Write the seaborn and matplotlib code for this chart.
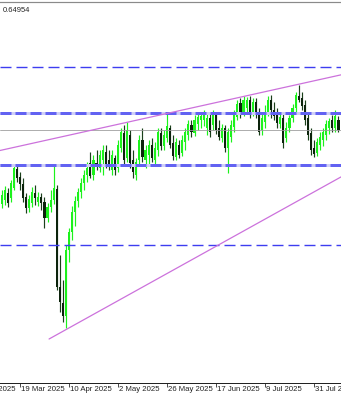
import numpy as np
import pandas as pd
import matplotlib
matplotlib.use("Agg")
import matplotlib.pyplot as plt
import matplotlib.transforms as mtransforms
import seaborn as sns

# ---------------- data (daily candles) ----------------
start_date = "2025-03-11"
opens = [
    0.6273, 0.6285, 0.6306, 0.6291, 0.6321, 0.6378, 0.6354, 0.6333, 0.6294, 0.6261,
    0.6276, 0.6306, 0.6279, 0.6294, 0.6279, 0.6231, 0.6264, 0.6285, 0.6318, 0.6024,
    0.5976, 0.5937, 0.6135, 0.6189, 0.6249, 0.6282, 0.6309, 0.6336, 0.6360, 0.6396,
    0.6360, 0.6396, 0.6381, 0.6405, 0.6429, 0.6405, 0.6375, 0.6411, 0.6381, 0.6441,
    0.6486, 0.6411, 0.6480, 0.6405, 0.6360, 0.6405, 0.6465, 0.6405, 0.6420, 0.6450,
    0.6405, 0.6435, 0.6486, 0.6447, 0.6471, 0.6501, 0.6456, 0.6414, 0.6450, 0.6426,
    0.6459, 0.6480, 0.6510, 0.6486, 0.6513, 0.6525, 0.6525, 0.6501, 0.6531, 0.6510,
    0.6540, 0.6501, 0.6471, 0.6501, 0.6441, 0.6474, 0.6504, 0.6534, 0.6576, 0.6549,
    0.6561, 0.6585, 0.6549, 0.6579, 0.6549, 0.6495, 0.6519, 0.6549, 0.6585, 0.6555,
    0.6546, 0.6513, 0.6531, 0.6471, 0.6501, 0.6531, 0.6561, 0.6597, 0.6591, 0.6570,
    0.6531, 0.6486, 0.6441, 0.6426, 0.6450, 0.6465, 0.6480, 0.6501, 0.6525, 0.6501,
    0.6525,
]
highs = [
    0.6315, 0.6327, 0.6321, 0.6345, 0.6393, 0.6390, 0.6369, 0.6351, 0.6306, 0.6300,
    0.6324, 0.6330, 0.6309, 0.6306, 0.6294, 0.6276, 0.6315, 0.6390, 0.6330, 0.6120,
    0.6045, 0.6150, 0.6201, 0.6267, 0.6297, 0.6321, 0.6351, 0.6375, 0.6399, 0.6429,
    0.6420, 0.6435, 0.6435, 0.6450, 0.6450, 0.6435, 0.6435, 0.6420, 0.6465, 0.6501,
    0.6510, 0.6519, 0.6495, 0.6435, 0.6411, 0.6480, 0.6501, 0.6450, 0.6465, 0.6471,
    0.6459, 0.6501, 0.6501, 0.6495, 0.6549, 0.6510, 0.6480, 0.6471, 0.6465, 0.6480,
    0.6501, 0.6525, 0.6525, 0.6540, 0.6549, 0.6549, 0.6555, 0.6549, 0.6546, 0.6555,
    0.6549, 0.6525, 0.6513, 0.6510, 0.6501, 0.6525, 0.6555, 0.6585, 0.6591, 0.6597,
    0.6594, 0.6597, 0.6591, 0.6591, 0.6561, 0.6549, 0.6570, 0.6597, 0.6600, 0.6579,
    0.6561, 0.6549, 0.6549, 0.6519, 0.6540, 0.6573, 0.6609, 0.6630, 0.6609, 0.6585,
    0.6549, 0.6501, 0.6465, 0.6471, 0.6489, 0.6501, 0.6525, 0.6531, 0.6540, 0.6555,
    0.6537,
]
lows = [
    0.6261, 0.6270, 0.6264, 0.6279, 0.6315, 0.6339, 0.6315, 0.6279, 0.6246, 0.6249,
    0.6264, 0.6270, 0.6267, 0.6255, 0.6201, 0.6219, 0.6249, 0.6273, 0.6015, 0.5949,
    0.5919, 0.5901, 0.6099, 0.6165, 0.6207, 0.6264, 0.6291, 0.6315, 0.6339, 0.6351,
    0.6345, 0.6375, 0.6369, 0.6360, 0.6381, 0.6375, 0.6360, 0.6360, 0.6369, 0.6429,
    0.6390, 0.6399, 0.6381, 0.6351, 0.6345, 0.6390, 0.6399, 0.6381, 0.6390, 0.6399,
    0.6390, 0.6417, 0.6435, 0.6435, 0.6459, 0.6441, 0.6405, 0.6405, 0.6411, 0.6417,
    0.6435, 0.6465, 0.6474, 0.6477, 0.6495, 0.6501, 0.6507, 0.6480, 0.6474, 0.6495,
    0.6483, 0.6465, 0.6459, 0.6429, 0.6366, 0.6459, 0.6489, 0.6525, 0.6531, 0.6537,
    0.6543, 0.6531, 0.6537, 0.6531, 0.6480, 0.6480, 0.6501, 0.6537, 0.6531, 0.6525,
    0.6501, 0.6501, 0.6441, 0.6459, 0.6489, 0.6519, 0.6549, 0.6579, 0.6555, 0.6510,
    0.6465, 0.6420, 0.6414, 0.6417, 0.6435, 0.6447, 0.6465, 0.6483, 0.6489, 0.6489,
    0.6489,
]
closes = [
    0.6300, 0.6315, 0.6276, 0.6336, 0.6381, 0.6351, 0.6333, 0.6291, 0.6261, 0.6288,
    0.6309, 0.6291, 0.6294, 0.6276, 0.6231, 0.6264, 0.6285, 0.6321, 0.6024, 0.5979,
    0.5937, 0.6135, 0.6189, 0.6249, 0.6282, 0.6309, 0.6336, 0.6360, 0.6381, 0.6357,
    0.6405, 0.6387, 0.6420, 0.6435, 0.6390, 0.6384, 0.6420, 0.6375, 0.6450, 0.6489,
    0.6405, 0.6495, 0.6396, 0.6369, 0.6399, 0.6465, 0.6414, 0.6435, 0.6450, 0.6411,
    0.6441, 0.6489, 0.6447, 0.6480, 0.6507, 0.6450, 0.6417, 0.6459, 0.6420, 0.6465,
    0.6489, 0.6513, 0.6489, 0.6525, 0.6534, 0.6537, 0.6543, 0.6531, 0.6489, 0.6543,
    0.6495, 0.6474, 0.6501, 0.6441, 0.6489, 0.6510, 0.6543, 0.6573, 0.6543, 0.6585,
    0.6585, 0.6549, 0.6579, 0.6543, 0.6489, 0.6531, 0.6549, 0.6585, 0.6555, 0.6537,
    0.6516, 0.6534, 0.6456, 0.6501, 0.6531, 0.6561, 0.6600, 0.6585, 0.6567, 0.6525,
    0.6480, 0.6435, 0.6423, 0.6459, 0.6474, 0.6489, 0.6513, 0.6522, 0.6501, 0.6537,
    0.64954,
]
last_price = 0.64954
thin_levels = [0.6684, 0.6150]
thick_levels = [0.6546, 0.6390]
upper_trend_bars = [0, 110]
upper_trend_prices = [0.64346, 0.66588]
lower_trend_bars = [15.5, 110]
lower_trend_prices = [0.5868, 0.6350]
first_label_bar = 6
label_every = 16

# ---------------- build frame ----------------
n = len(closes)
dates = pd.bdate_range(start_date, periods=n)
df = pd.DataFrame({"date": dates, "open": opens, "high": highs,
                   "low": lows, "close": closes})
df["bar"] = np.arange(n)
df["up"] = df["close"] >= df["open"]

# ---------------- style ----------------
sns.set_theme(style="white")
plt.rcParams["font.family"] = ["Liberation Sans", "DejaVu Sans"]
plt.rcParams["lines.scale_dashes"] = False

W, H, DPI = 341, 400, 100
fig = plt.figure(figsize=(W / DPI, H / DPI), dpi=DPI)
fig.patch.set_facecolor("white")
ax = fig.add_axes([0, 17 / H, 1, (398 - 17) / H])
ax.set_facecolor("white")

xlim = (-0.52, 110.82)
ylim = (0.5736, 0.6879)

bull = "#1cf21c"
bear_body = "#0c230c"
bear_wick = "#1a401a"

up = df[df["up"]]
dn = df[~df["up"]]
# wicks
ax.vlines(up["bar"], up["low"], up["high"], colors=bull, lw=0.85, zorder=2)
ax.vlines(dn["bar"], dn["low"], dn["high"], colors=bear_wick, lw=0.85, zorder=2)
# bodies
min_h = 0.00025
ax.bar(up["bar"], np.maximum(up["close"] - up["open"], min_h), bottom=up["open"],
       width=0.7, color=bull, linewidth=0, zorder=2.5)
ax.bar(dn["bar"], np.maximum(dn["open"] - dn["close"], min_h), bottom=dn["close"],
       width=0.7, color=bear_body, linewidth=0, zorder=2.5)

# horizontal levels
px = 0.72  # points per pixel at 100 dpi
for lv in thin_levels:
    ax.axhline(lv, color="#3e3ef0", lw=1.4 * px, dashes=(11 * px, 5 * px), zorder=4)
for lv in thick_levels:
    ax.axhline(lv, color="#cfcff7", lw=3 * px, zorder=3.9)
    ax.axhline(lv, color="#6262f2", lw=3 * px, dashes=(11 * px, 4 * px), zorder=4)
ax.axhline(last_price, color="#9a9a9a", lw=0.8 * px, zorder=3.5)

# trend lines (seaborn lineplot), extended to the visible edge
def extend(bars, prices, x0, x1):
    slope = (prices[1] - prices[0]) / (bars[1] - bars[0])
    xs = np.array([x0, x1])
    return pd.DataFrame({"bar": xs, "price": prices[0] + slope * (xs - bars[0])})

up_line = extend(upper_trend_bars, upper_trend_prices, xlim[0], xlim[1])
lo_line = extend(lower_trend_bars, lower_trend_prices, lower_trend_bars[0], xlim[1])
sns.lineplot(data=up_line, x="bar", y="price", ax=ax, color="#cc72dc",
             lw=0.9, zorder=4.5, legend=False)
sns.lineplot(data=lo_line, x="bar", y="price", ax=ax, color="#cc72dc",
             lw=0.9, zorder=4.5, legend=False)

ax.set_xlim(*xlim)
ax.set_ylim(*ylim)
ax.set_xlabel("")
ax.set_ylabel("")
ax.set_yticks([])

# spines
for s in ["left", "right"]:
    ax.spines[s].set_visible(False)
ax.spines["top"].set_color("#8a8a8a")
ax.spines["top"].set_linewidth(1.2 * px)
ax.spines["bottom"].set_color("#222222")
ax.spines["bottom"].set_linewidth(1.0 * px)

# date ticks every 16 bars
tick_bars = list(range(first_label_bar - label_every, n, label_every))
vis_ticks = [t for t in tick_bars if xlim[0] <= t <= xlim[1]]
ax.set_xticks(vis_ticks)
ax.tick_params(axis="x", direction="out", length=4 * px, width=0.8 * px,
               color="#222222", labelbottom=False, bottom=True)
trans = mtransforms.blended_transform_factory(ax.transData, ax.transAxes)
trans = mtransforms.offset_copy(trans, fig=fig, x=1.5, y=-3.0, units="dots")
for t in tick_bars:
    d = dates[0] + pd.offsets.BDay(t) if t >= 0 else dates[0] - pd.offsets.BDay(-t)
    label = f"{d.day} {d.strftime('%b %Y')}"
    ax.text(t, 0, label, transform=trans, ha="left", va="top",
            fontsize=5.6, color="#222222", clip_on=False)

fig.text(3 / W, 1 - 10.5 / H, f"{last_price:.5f}", ha="left", va="center",
         fontsize=5.4, color="#222222")

fig.savefig("out.png", dpi=DPI, facecolor="white")
